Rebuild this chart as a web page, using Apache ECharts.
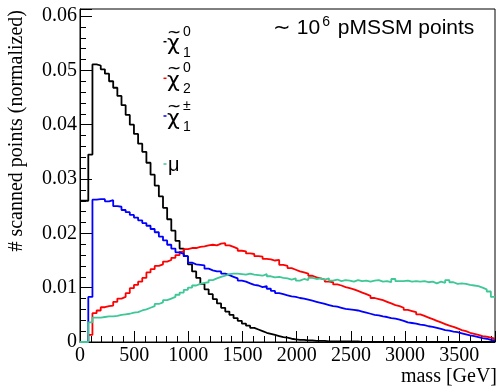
<!DOCTYPE html>
<html>
<head>
<meta charset="utf-8">
<script src="https://cdn.jsdelivr.net/npm/echarts@6/dist/echarts.min.js"></script>
<style>html,body{margin:0;padding:0;background:#fff;}#c{width:498px;height:386px;}</style>
</head>
<body>
<div id="c"></div>
<script>
// ---- data ----
const BIN_WIDTH = 38.3;          // GeV per bin
const X_MAX = 3830;              // histogram upper edge
const xTicks = [0, 500, 1000, 1500, 2000, 2500, 3000, 3500];
const yTicks = [0, 0.01, 0.02, 0.03, 0.04, 0.05, 0.06];

const neutralino1 = [
0.0260,0.0260,0.0345,0.0511,0.0509,0.0502,0.0494,0.0480,0.0468,0.0453,
0.0436,0.0418,0.0400,0.0383,0.0365,0.0350,0.0330,0.0308,0.0288,0.0268,
0.0247,0.0226,0.0205,0.0186,0.0172,0.0158,0.0143,0.0130,0.0118,0.0107,
0.0097,0.0088,0.0079,0.0071,0.0063,0.0056,0.0050,0.0044,0.0039,0.0034,
0.0030,0.0026,0.0023,0.0020,0.0017,0.0015,0.0013,0.0011,0.0009,0.0008,
0.0006,0.0005,0.0004,0.0004,0.0003,0.0003,0.0002,0.0002,0.0002,0.0001,
0.0001,0.0001,0.0001,0.0001,0.0001,0.0001,0.0001,0,0,0,
0,0,0,0,0,0,0,0,0,0,
0,0,0,0,0,0,0,0,0,0,
0,0,0,0,0,0,0,0,0,0];

const neutralino2 = [
0,0,0.0013,0.0053,0.0058,0.0064,0.0066,0.0067,0.0074,0.0080,
0.0083,0.0090,0.0099,0.0105,0.0111,0.0118,0.0128,0.0134,0.0140,0.0143,
0.0148,0.0151,0.0155,0.0160,0.0166,0.0171,0.0173,0.0173,0.0175,0.0176,
0.0178,0.0179,0.0178,0.0181,0.0182,0.0178,0.0175,0.0172,0.0168,0.0167,
0.0163,0.0162,0.0158,0.0157,0.0153,0.0152,0.0150,0.0151,0.0142,0.0140,
0.0136,0.0133,0.0130,0.0128,0.0126,0.0122,0.0119,0.0117,0.0115,0.0111,
0.0110,0.0106,0.0104,0.0101,0.0099,0.0097,0.0094,0.0091,0.0088,0.0085,
0.0081,0.0079,0.0077,0.0074,0.0071,0.0068,0.0066,0.0063,0.0059,0.0057,
0.0055,0.0051,0.0048,0.0045,0.0042,0.0039,0.0036,0.0033,0.0030,0.0028,
0.0025,0.0022,0.0020,0.0017,0.0015,0.0013,0.0011,0.0010,0.0008,0.0006];

const chargino1 = [
0,0,0.0083,0.0262,0.0263,0.0263,0.0259,0.0261,0.0250,0.0249,
0.0243,0.0239,0.0234,0.0229,0.0224,0.0219,0.0214,0.0208,0.0202,0.0194,
0.0187,0.0179,0.0172,0.0165,0.0162,0.0158,0.0146,0.0143,0.0142,0.0141,
0.0135,0.0132,0.0130,0.0130,0.0126,0.0123,0.0120,0.0117,0.0113,0.0111,
0.0108,0.0105,0.0104,0.0101,0.0103,0.0098,0.0094,0.0090,0.0088,0.0086,
0.0084,0.0083,0.0081,0.0080,0.0078,0.0076,0.0074,0.0072,0.0070,0.0068,
0.0066,0.0065,0.0063,0.0061,0.0060,0.0059,0.0058,0.0056,0.0054,0.0052,
0.0050,0.0049,0.0047,0.0046,0.0044,0.0043,0.0041,0.0039,0.0036,0.0035,
0.0034,0.0032,0.0031,0.0029,0.0028,0.0026,0.0024,0.0022,0.0021,0.0019,
0.0018,0.0016,0.0014,0.0012,0.0011,0.0009,0.0007,0.0006,0.0004,0.0003];

const mu = [
0,0,0.0036,0.0045,0.0045,0.0046,0.0047,0.0047,0.0048,0.0050,
0.0051,0.0052,0.0054,0.0055,0.0058,0.0060,0.0063,0.0066,0.0070,0.0073,
0.0077,0.0080,0.0083,0.0087,0.0091,0.0096,0.0100,0.0104,0.0107,0.0109,
0.0110,0.0114,0.0117,0.0120,0.0122,0.0125,0.0126,0.0126,0.0125,0.0124,
0.0126,0.0124,0.0123,0.0122,0.0125,0.0121,0.0119,0.0120,0.0118,0.0117,
0.0115,0.0117,0.0113,0.0116,0.0114,0.0118,0.0116,0.0117,0.0115,0.0117,
0.0113,0.0115,0.0112,0.0114,0.0113,0.0111,0.0114,0.0112,0.0113,0.0111,
0.0113,0.0114,0.0111,0.0112,0.0110,0.0116,0.0112,0.0112,0.0113,0.0111,
0.0112,0.0111,0.0112,0.0110,0.0111,0.0108,0.0111,0.0109,0.0114,0.0110,
0.0107,0.0108,0.0107,0.0105,0.0104,0.0103,0.0100,0.0097,0.0093,0.0083];

// ---- build ----
function histPoints(vals) {
  const pts = vals.map((v, i) => [i * BIN_WIDTH, v]);
  pts.push([X_MAX, vals[vals.length - 1]]);
  return pts;
}
const COLORS = ['#000000', '#ff0000', '#0000ff', '#3dc896'];
const seriesVals = [neutralino1, neutralino2, chargino1, mu];
const seriesNames = ['neutralino1', 'neutralino2', 'chargino1', 'mu'];

const SERIF = '"Liberation Serif", "Times New Roman", serif';
const SANS = '"Liberation Sans", Arial, sans-serif';
const GREEK = '"DejaVu Sans", sans-serif';

const chart = echarts.init(document.getElementById('c'), null, { renderer: 'canvas' });

const legendItems = [
  { color: COLORS[0], y: 41.7, sup: '0', sub: '1' },
  { color: COLORS[1], y: 78.3, sup: '0', sub: '2' },
  { color: COLORS[2], y: 116, sup: '±', sub: '1' },
  { color: COLORS[3], y: 164, label: 'μ' }
];
const graphics = [];
legendItems.forEach(it => {
  graphics.push({ type: 'line', shape: { x1: 163.5, y1: it.y, x2: 166.5, y2: it.y }, style: { stroke: it.color, lineWidth: 1.5 }, z: 100 });
  if (it.label) {
    graphics.push({ type: 'text', x: 168, y: it.y + 1, style: { text: it.label, font: '20px ' + SANS, fill: '#000', textAlign: 'left', textVerticalAlign: 'middle' }, z: 100 });
  } else {
    graphics.push({ type: 'text', x: 167, y: it.y + 3, style: { text: 'χ', font: '22px ' + GREEK, fill: '#000', textAlign: 'left', textVerticalAlign: 'middle' }, z: 100 });
    graphics.push({ type: 'text', x: 174, y: it.y - 8.5, style: { text: '~', font: '17px ' + GREEK, fill: '#000', textAlign: 'center', textVerticalAlign: 'middle' }, z: 100 });
    graphics.push({ type: 'text', x: 183, y: it.y - 10, style: { text: it.sup, font: '14px ' + SANS, fill: '#000', textAlign: 'left', textVerticalAlign: 'middle' }, z: 100 });
    graphics.push({ type: 'text', x: 183, y: it.y + 11, style: { text: it.sub, font: '14px ' + SANS, fill: '#000', textAlign: 'left', textVerticalAlign: 'middle' }, z: 100 });
  }
});
graphics.push({
  type: 'text', x: 273, y: 28, z: 100,
  style: {
    text: '{a|∼ 10}{s|6}{a| pMSSM points}',
    textAlign: 'left', textVerticalAlign: 'middle',
    rich: {
      a: { fontSize: 21, fontFamily: SANS, lineHeight: 25, fill: '#000', color: '#000' },
      s: { fontSize: 14, fontFamily: SANS, lineHeight: 14, verticalAlign: 'top', fill: '#000', color: '#000', padding: [0, 2, 0, 2] }
    }
  }
});
graphics.push({ type: 'text', x: 17, y: 10, rotation: Math.PI / 2, z: 100,
  style: { text: '# scanned points (normalized)', font: '20px ' + SERIF, fill: '#000', textAlign: 'right', textVerticalAlign: 'middle' } });
graphics.push({ type: 'text', x: 497, y: 377, z: 100,
  style: { text: 'mass [GeV]', font: '20px ' + SERIF, fill: '#000', textAlign: 'right', textVerticalAlign: 'middle' } });

const Y_MAX = 0.0613;
const axisCommonX = { type: 'value', min: 0, max: X_MAX, splitLine: { show: false } };
const axisCommonY = { type: 'value', min: 0, max: Y_MAX, splitLine: { show: false } };

chart.setOption({
  animation: false,
  backgroundColor: '#fff',
  grid: { left: 80, right: 1, top: 9, bottom: 44, show: true, borderColor: '#000', borderWidth: 1, backgroundColor: 'transparent' },
  xAxis: [
    Object.assign({}, axisCommonX, {
      interval: 500,
      axisLine: { show: true, lineStyle: { color: '#000', width: 1 } },
      axisTick: { show: true, inside: true, length: 11, lineStyle: { color: '#000', width: 1 } },
      axisLabel: { fontFamily: SERIF, fontSize: 20, color: '#000', margin: 4,
        formatter: v => xTicks.indexOf(v) >= 0 ? String(v) : '' }
    }),
    Object.assign({}, axisCommonX, {
      interval: 100, position: 'bottom',
      axisLine: { show: false },
      axisTick: { show: true, inside: true, length: 6, lineStyle: { color: '#000', width: 1 } },
      axisLabel: { show: false }
    })
  ],
  yAxis: [
    Object.assign({}, axisCommonY, {
      interval: 0.01,
      axisLine: { show: true, lineStyle: { color: '#000', width: 1 } },
      axisTick: { show: true, inside: true, length: 12, lineStyle: { color: '#000', width: 1 } },
      axisLabel: { fontFamily: SERIF, fontSize: 20, color: '#000', margin: 3,
        formatter: v => { const t = yTicks.find(y => Math.abs(y - v) < 1e-9); return t === undefined ? '' : (t === 0 ? '0' : t.toFixed(2)); } }
    }),
    Object.assign({}, axisCommonY, {
      interval: 0.002, position: 'left',
      axisLine: { show: false },
      axisTick: { show: true, inside: true, length: 6, lineStyle: { color: '#000', width: 1 } },
      axisLabel: { show: false }
    })
  ],
  series: seriesVals.map((vals, k) => ({
    name: seriesNames[k], type: 'line', step: 'end', xAxisIndex: 0, yAxisIndex: 0,
    data: histPoints(vals), showSymbol: false, symbol: 'none', clip: true,
    lineStyle: { color: COLORS[k], width: 1.8 }, itemStyle: { color: COLORS[k] }, z: 2 + k
  })),
  graphic: graphics
});
</script>
</body>
</html>
